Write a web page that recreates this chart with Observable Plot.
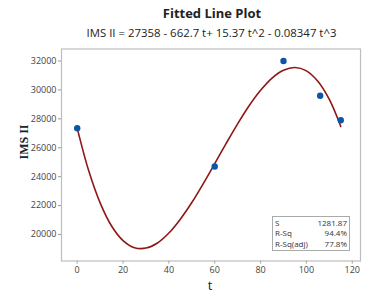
<!DOCTYPE html>
<html>
<head>
<meta charset="utf-8">
<script src="https://cdn.jsdelivr.net/npm/d3@7"></script>
<script src="https://cdn.jsdelivr.net/npm/@observablehq/plot@0.6"></script>
<style>
  html, body { margin: 0; padding: 0; background: #fff; }
  #wrap { position: relative; width: 372px; height: 293px; overflow: hidden; font-family: "Open Sans", "DejaVu Sans", sans-serif; }
  .abs { position: absolute; white-space: nowrap; }
  #title { left: 0; width: 424px; top: 4px; text-align: center; font-size: 13px; font-weight: bold; color: #222; }
  #subtitle { left: 0; width: 423px; top: 25px; text-align: center; font-size: 11.4px; color: #222; }
  #ylab { left: 24px; top: 142px; transform: translate(-50%, -50%) rotate(-90deg); font-family: "Liberation Serif", serif; font-weight: bold; font-size: 12px; color: #222; }
  #xlab { left: 210px; top: 279px; transform: translateX(-50%); font-size: 13px; line-height: 12px; color: #222; }
  #stats { left: 272px; top: 216px; width: 78px; height: 35px; border: 1px solid #aaa; background: #fff; font-size: 8px; color: #333; padding: 0 2px; box-sizing: border-box; }
  #stats .row { display: flex; justify-content: space-between; line-height: 10.8px; }
  #stats .row:first-child { margin-top: 0.5px; }
</style>
</head>
<body>
<div id="wrap">
  <div id="chart"></div>
  <div class="abs" id="title">Fitted Line Plot</div>
  <div class="abs" id="subtitle">IMS II = 27358 - 662.7 t+ 15.37 t^2 - 0.08347 t^3</div>
  <div class="abs" id="ylab">IMS II</div>
  <div class="abs" id="xlab">t</div>
  <div class="abs" id="stats"></div>
</div>
<script>
// Observed points
const obsT = [0, 60, 90, 106, 115];
const obsY = [27350, 24700, 32000, 29600, 27900];

// Fitted curve
const fitT = [0, 5, 10, 15, 20, 25, 30, 35, 40, 45, 50, 55, 60, 65, 70, 75, 80, 85, 90, 95, 100, 105, 110, 115];
const fitY = [27360, 24420, 22190, 20590, 19580, 19090, 19060, 19410, 20100, 21060, 22210, 23520, 24900, 26300, 27650, 28900, 29970, 30820, 31360, 31550, 31320, 30600, 29340, 27470];

// Axis ticks
const xTicks = [0, 20, 40, 60, 80, 100, 120];
const yTicks = [20000, 22000, 24000, 26000, 28000, 30000, 32000];

// Summary statistics
const statLabels = ["S", "R-Sq", "R-Sq(adj)"];
const statValues = ["1281.87", "94.4%", "77.8%"];

const obs = obsT.map((t, i) => ({t, y: obsY[i]}));
const fit = fitT.map((t, i) => ({t, y: fitY[i]}));

const chart = Plot.plot({
  width: 372,
  height: 293,
  marginLeft: 61,
  marginRight: 12,
  marginTop: 48.5,
  marginBottom: 32.5,
  style: { fontFamily: "'Open Sans', 'DejaVu Sans', sans-serif", fontSize: "9px", color: "#444", background: "#fff" },
  x: { domain: [-6.85, 123.6], ticks: xTicks, tickSize: 3, tickPadding: 3, label: null, tickFormat: d => String(d) },
  y: { domain: [18167, 32830], ticks: yTicks, tickSize: 3, tickPadding: 2, label: null, tickFormat: d => String(d) },
  marks: [
    Plot.frame({ stroke: "#bdbdbd", strokeWidth: 1.2 }),
    Plot.line(fit, { x: "t", y: "y", stroke: "#8e1717", strokeWidth: 1.6, curve: "catmull-rom" }),
    Plot.dot(obs, { x: "t", y: "y", r: 3.2, fill: "#0d56a6", stroke: "none" })
  ]
});
chart.querySelectorAll("g[aria-label='x-axis tick'], g[aria-label='y-axis tick']").forEach(e => e.setAttribute("stroke", "#999"));
document.getElementById("chart").appendChild(chart);

const stats = document.getElementById("stats");
statLabels.forEach((l, i) => {
  const row = document.createElement("div");
  row.className = "row";
  row.innerHTML = `<span>${l}</span><span>${statValues[i]}</span>`;
  stats.appendChild(row);
});
</script>
</body>
</html>
